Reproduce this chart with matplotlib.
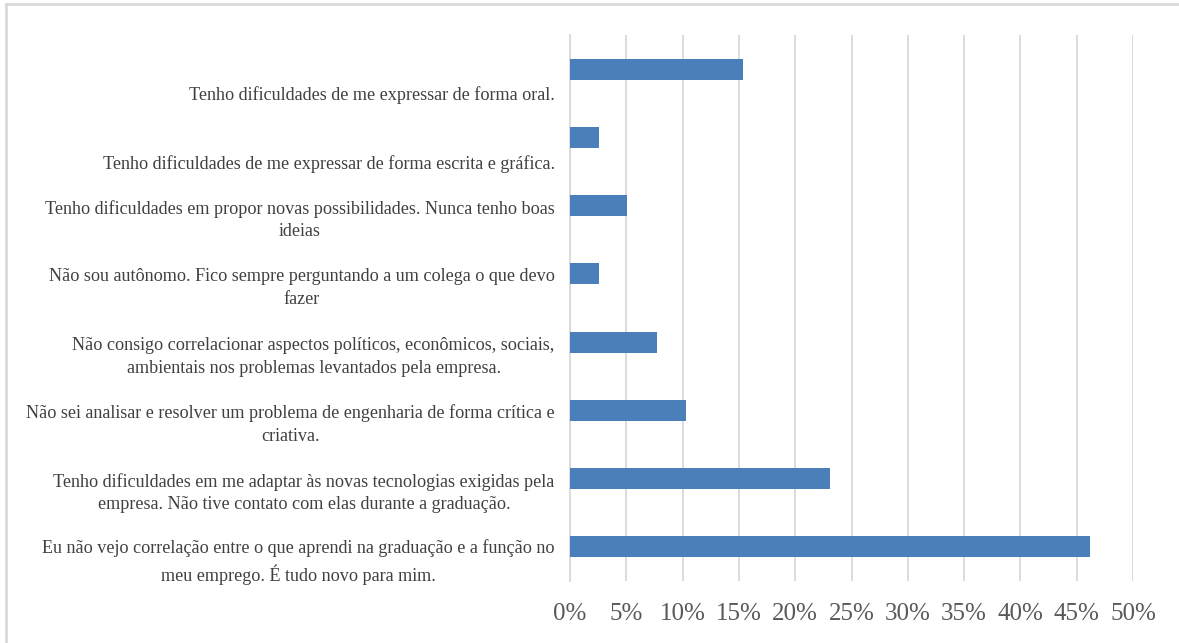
import numpy as np
import matplotlib.pyplot as plt
from matplotlib.lines import Line2D

# categories, top to bottom
labels = [
    "\nTenho dificuldades de me expressar de forma oral.",
    "\nTenho dificuldades de me expressar de forma escrita e gráfica.",
    "Tenho dificuldades em propor novas possibilidades. Nunca tenho boas\nideias",
    "Não sou autônomo. Fico sempre perguntando a um colega o que devo\nfazer",
    "Não consigo correlacionar aspectos políticos, econômicos, sociais,\nambientais nos problemas levantados pela empresa.",
    "Não sei analisar e resolver um problema de engenharia de forma crítica e\ncriativa.",
    "Tenho dificuldades em me adaptar às novas tecnologias exigidas pela\nempresa. Não tive contato com elas durante a graduação.",
    "Eu não vejo correlação entre o que aprendi na graduação e a função no\nmeu emprego. É tudo novo para mim.",
]
values = [0.154, 0.026, 0.051, 0.026, 0.077, 0.103, 0.231, 0.462]
xticks = [0, 0.05, 0.10, 0.15, 0.20, 0.25, 0.30, 0.35, 0.40, 0.45, 0.50]
xtick_labels = ["0%", "5%", "10%", "15%", "20%", "25%", "30%", "35%", "40%", "45%", "50%"]

plt.rcParams['font.family'] = ['Liberation Serif', 'DejaVu Serif']

fig = plt.figure(figsize=(11.79, 6.43), dpi=100)
ax = fig.add_axes([570 / 1179, 1 - 581 / 643, (1133 - 570) / 1179, (581 - 35) / 643])

pos = np.arange(len(labels))
ax.barh(pos, values, height=0.31, color='#4A7FBA', zorder=3)

ax.set_xlim(0, 0.5)
ax.set_ylim(len(labels) - 0.5, -0.5)
ax.set_xticks(xticks)
ax.set_xticklabels(xtick_labels, fontsize=18, color='#595959')
ax.set_yticks(pos + 0.14)
ax.set_yticklabels(labels, fontsize=13.1, color='#404040', linespacing=1.45)
for t in ax.get_yticklabels():
    t.set_multialignment('center')

ax.grid(axis='x', color='#D9D9D9', linewidth=1.3, zorder=0)
ax.tick_params(axis='y', length=0, pad=11)
ax.tick_params(axis='x', length=0, pad=16)
for side in ['top', 'right', 'bottom']:
    ax.spines[side].set_visible(False)
ax.spines['left'].set_color('#D9D9D9')
ax.spines['left'].set_linewidth(1.3)

# outer frame (only top and left visible in the picture)
fig.add_artist(Line2D([6 / 1179, 6 / 1179], [0, 1 - 4 / 643], color='#D9D9D9', linewidth=2))
fig.add_artist(Line2D([6 / 1179, 1], [1 - 4 / 643, 1 - 4 / 643], color='#D9D9D9', linewidth=2))

fig.savefig('out.png', dpi=100)
